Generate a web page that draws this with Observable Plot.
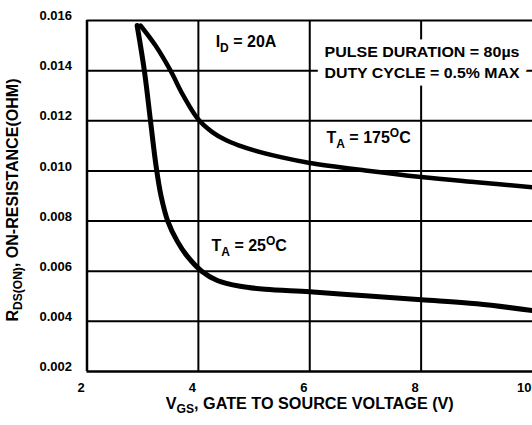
<!DOCTYPE html>
<html>
<head>
<meta charset="utf-8">
<script src="https://cdn.jsdelivr.net/npm/d3@7"></script>
<script src="https://cdn.jsdelivr.net/npm/@observablehq/plot@0.6"></script>
<style>
  html, body { margin: 0; padding: 0; background: #fff; }
  #chart { width: 532px; height: 425px; overflow: hidden; }
</style>
</head>
<body>
<div id="chart"></div>
<script>
// ---- data ----
const xTicks = [2, 4, 6, 8, 10];
const yTicks = [0.002, 0.004, 0.006, 0.008, 0.010, 0.012, 0.014, 0.016];
const xGrid = [4, 6, 8];

// T_A = 175°C
const vgs175 = [2.96, 3.23, 3.5, 3.73, 4.0, 4.25, 4.5, 4.75, 5.0, 5.5, 6.0, 7.0, 8.0, 9.0, 10.0];
const rds175 = [0.0158, 0.0150, 0.0140, 0.0130, 0.01205, 0.01155, 0.01122, 0.01100, 0.01082, 0.01054, 0.01032, 0.01002, 0.00976, 0.00955, 0.00935];
// T_A = 25°C
const vgs25 = [2.90, 3.03, 3.14, 3.24, 3.33, 3.45, 3.62, 3.8, 4.06, 4.34, 4.75, 5.2, 6.0, 7.0, 8.0, 9.0, 10.0];
const rds25 = [0.0158, 0.0140, 0.0120, 0.0102, 0.0090, 0.0080, 0.0072, 0.0066, 0.0060, 0.00563, 0.0054, 0.00528, 0.00518, 0.00502, 0.00486, 0.0047, 0.00443];

const annoText = ["I_{D} = 20A", "T_{A} = 175^{O}C", "T_{A} = 25^{O}C"];
const annoX = [4.31, 6.30, 4.236];
const annoY = [0.01514, 0.01130, 0.00700];

const noteText = ["PULSE DURATION = 80µs", "DUTY CYCLE = 0.5% MAX"];
const noteX = [6.265, 6.265];
const noteY = [0.01475, 0.01390];

const xTitle = "V_{GS}, GATE TO SOURCE VOLTAGE (V)";
const yTitle = "R_{DS(ON)}, ON-RESISTANCE(OHM)";

// ---- build tables ----
const s175 = vgs175.map((v, i) => ({x: v, y: rds175[i]}));
const s25 = vgs25.map((v, i) => ({x: v, y: rds25[i]}));
const annos = annoText.map((t, i) => ({t, x: annoX[i], y: annoY[i]}));
const notes = noteText.map((t, i) => ({t, x: noteX[i], y: noteY[i]}));
const xTicksInner = xTicks.slice(0, -1);
const xTickLast = xTicks.slice(-1);

const FONT = "'Liberation Sans', Arial, Helvetica, sans-serif";

const plot = Plot.plot({
  width: 532,
  height: 425,
  marginLeft: 86.5,
  marginRight: 0,
  marginTop: 20,
  marginBottom: 54,
  x: {domain: [2, 10], axis: null},
  y: {domain: [0.002, 0.016], axis: null},
  style: {fontFamily: FONT, background: "#fff", color: "#000", overflow: "visible"},
  marks: [
    Plot.ruleY(yTicks.slice(1), {x1: 2, x2: 10, stroke: "#000", strokeWidth: 2}),
    Plot.ruleX(xGrid, {y1: 0.002, y2: 0.016, stroke: "#000", strokeWidth: 2}),
    Plot.ruleX([2], {y1: 0.002, y2: 0.016, stroke: "#000", strokeWidth: 2.5}),
    Plot.ruleY([0.002], {x1: 2, x2: 10, stroke: "#000", strokeWidth: 2.5}),
    Plot.text(notes, {x: "x", y: "y", text: "t", textAnchor: "start", fontSize: 15.5, fontWeight: "bold",
      fill: "#000", stroke: "#fff", strokeWidth: 15}),
    Plot.line(s175, {x: "x", y: "y", curve: "catmull-rom", stroke: "#000", strokeWidth: 4.5}),
    Plot.line(s25, {x: "x", y: "y", curve: "catmull-rom", stroke: "#000", strokeWidth: 5}),
    Plot.text(annos, {x: "x", y: "y", text: "t", textAnchor: "start", fontSize: 16, fontWeight: "bold", fill: "#000"}),
    Plot.text(yTicks, {x: 2, y: d => d, text: d => d3.format(".3f")(d), textAnchor: "end", dx: -15, dy: -4.5,
      fontSize: 13, fontWeight: "bold", fill: "#000"}),
    Plot.text(xTicksInner, {x: d => d, y: 0.002, text: d => String(d), textAnchor: "middle", dx: -6, dy: 16,
      fontSize: 13, fontWeight: "bold", fill: "#000"}),
    Plot.text(xTickLast, {x: d => d, y: 0.002, text: d => String(d), textAnchor: "end", dx: -1, dy: 16,
      fontSize: 13, fontWeight: "bold", fill: "#000"}),
    Plot.text([xTitle], {frameAnchor: "bottom", text: d => d, textAnchor: "middle", dy: 37,
      fontSize: 16, fontWeight: "bold", fill: "#000"}),
    Plot.text([yTitle], {frameAnchor: "left", text: d => d, textAnchor: "middle", rotate: -90, dx: -74.5, dy: 4,
      fontSize: 16, fontWeight: "bold", fill: "#000"})
  ]
});

// target text lengths (the reference's lettering is wider/narrower than the local font)
const stretch = new Map([[noteText[0], 195], [noteText[1], 195], [xTitle, 288], [yTitle, 243]]);

// rich text: _{..} subscript, ^{..} superscript
d3.select(plot).selectAll("text").each(function () {
  const el = this;
  const raw = el.textContent;
  if (stretch.has(raw)) {
    el.setAttribute("textLength", stretch.get(raw));
    el.setAttribute("lengthAdjust", "spacingAndGlyphs");
  }
  if (!/[_^]\{/.test(raw)) return;
  const fs = parseFloat(el.getAttribute("font-size")) ||
             parseFloat(el.parentNode && el.parentNode.getAttribute("font-size")) || 16;
  const small = Math.round(fs * 0.72);
  const parts = raw.match(/_\{[^}]*\}|\^\{[^}]*\}|[^_^]+/g);
  while (el.firstChild) el.removeChild(el.firstChild);
  let shift = 0;
  for (const p of parts) {
    const ts = document.createElementNS("http://www.w3.org/2000/svg", "tspan");
    let target = 0;
    if (p.startsWith("_{")) { ts.textContent = p.slice(2, -1); target = fs * 0.28; ts.setAttribute("font-size", small); }
    else if (p.startsWith("^{")) { ts.textContent = p.slice(2, -1); target = -fs * 0.38; ts.setAttribute("font-size", small); }
    else { ts.textContent = p; target = 0; }
    ts.setAttribute("dy", (target - shift).toFixed(2));
    shift = target;
    el.appendChild(ts);
  }
});

document.getElementById("chart").appendChild(plot);
</script>
</body>
</html>
